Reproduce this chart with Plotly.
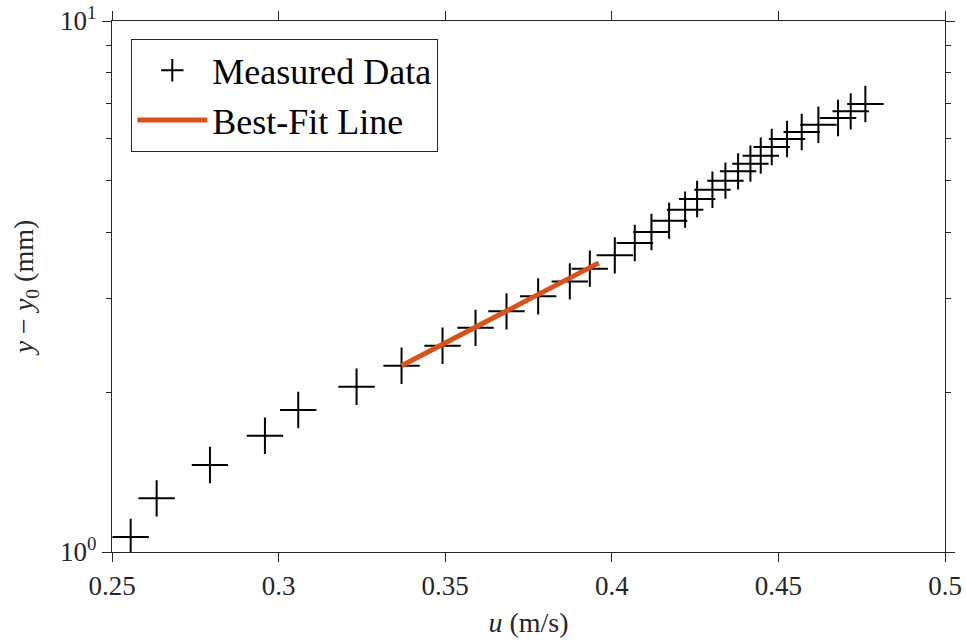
import plotly.graph_objects as go

# Measured data (u in m/s, y - y0 in mm)
u_meas = [0.2556, 0.2634, 0.2794, 0.2959, 0.3059, 0.3234, 0.3369, 0.3492,
          0.3591, 0.3684, 0.3779, 0.3874, 0.3934, 0.4009, 0.4069, 0.4119,
          0.4172, 0.4220, 0.4256, 0.4302, 0.4341, 0.4379, 0.4416, 0.4447,
          0.4480, 0.4526, 0.4570, 0.4620, 0.4679, 0.4717, 0.4761]
y_meas = [1.067, 1.262, 1.458, 1.656, 1.851, 2.048, 2.243, 2.446,
          2.643, 2.839, 3.030, 3.233, 3.417, 3.620, 3.818, 4.005,
          4.207, 4.413, 4.622, 4.812, 5.004, 5.210, 5.387, 5.577,
          5.791, 5.996, 6.180, 6.378, 6.567, 6.758, 6.978]

# Best-fit line endpoints
u_fit = [0.3369, 0.3961]
y_fit = [2.243, 3.503]

x_tickvals = [0.25, 0.3, 0.35, 0.4, 0.45, 0.5]
x_ticktext = ["0.25", "0.3", "0.35", "0.4", "0.45", "0.5"]
y_tickvals = [1, 10]
y_ticktext = ["10<sup>0</sup>", "10<sup>1</sup>"]
y_minor = [2, 3, 4, 5, 6, 7, 8, 9]

AX = "#262626"
FONT = "Liberation Serif"

fig = go.Figure()
fig.add_trace(go.Scatter(
    x=u_meas, y=y_meas, mode="markers", name="Measured Data",
    marker=dict(symbol="cross-thin", size=26, color="black",
                line=dict(color="black", width=2)),
))
fig.add_trace(go.Scatter(
    x=u_fit, y=y_fit, mode="lines", name="Best-Fit Line",
    line=dict(color="#D95319", width=5),
))

axis_common = dict(
    showline=True, linecolor=AX, linewidth=1.3, mirror="allticks",
    ticks="outside", ticklen=9, tickwidth=1.3, tickcolor=AX,
    showgrid=False, zeroline=False,
    tickfont=dict(family=FONT, size=27, color=AX),
)

fig.update_layout(
    width=966, height=642,
    margin=dict(l=112, r=21, t=21, b=90),
    paper_bgcolor="white", plot_bgcolor="white",
    font=dict(family=FONT, color=AX),
    showlegend=True,
    legend=dict(
        x=0.0228, y=0.966, xanchor="left", yanchor="top",
        bgcolor="white", bordercolor=AX, borderwidth=1.3,
        font=dict(family=FONT, size=36, color="black"),
        itemwidth=70, tracegroupgap=0,
    ),
    xaxis=dict(
        range=[0.25, 0.5], tickvals=x_tickvals, ticktext=x_ticktext,
        title=dict(text="<i>u</i> (m/s)", font=dict(family=FONT, size=28, color=AX),
                   standoff=12),
        automargin=False,
        **axis_common,
    ),
    yaxis=dict(
        type="log", range=[0, 1], tickvals=y_tickvals, ticktext=y_ticktext,
        minor=dict(tickvals=y_minor, ticks="outside", ticklen=5, tickwidth=1.3,
                   tickcolor=AX, showgrid=False),
        title=dict(text="<i>y</i> \u2212 <i>y</i><sub>0</sub> (mm)",
                   font=dict(family=FONT, size=28, color=AX), standoff=18),
        automargin=False,
        **axis_common,
    ),
)

fig.write_html("out.html")
